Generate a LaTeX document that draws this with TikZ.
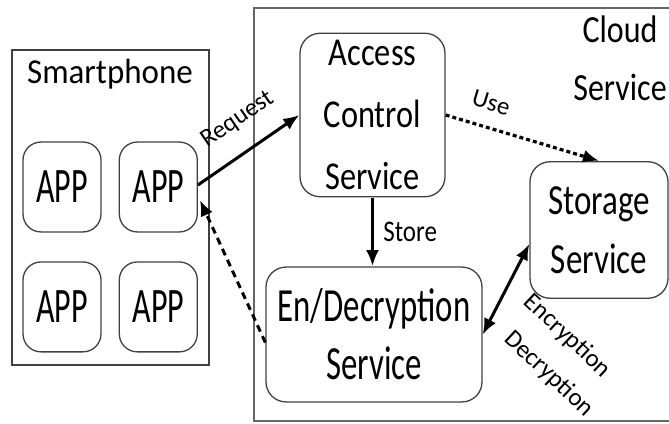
\documentclass[tikz,border=0pt]{standalone}
\usepackage{fontspec}
\setmainfont{Carlito}
\usepackage{tikz}
\usetikzlibrary{arrows.meta,calc,positioning}
\tikzset{every picture/.style={
  >={Latex[length=16pt,width=13pt]}   % Big filled arrow heads.
  }
}

\begin{document}
\begin{tikzpicture}[x=1pt,y=-1pt,
    box/.style={draw=black!75,line width=1.3pt,inner sep=0pt,align=center},
    app/.style={box,rounded corners=18pt,yscale=1.55,
      minimum width=78pt,minimum height=58pt,
      font=\fontsize{32}{38}\selectfont},
    svc/.style={box,rounded corners=20pt},
    lbl/.style={font=\fontsize{25}{30}\selectfont},
    link/.style={line width=3pt}
  ]

    \useasboundingbox (0,0) rectangle (669,423);
    \clip (0,0) rectangle (669,423);

    % The cloud side; its right edge runs off the page.
    \node[draw=black!60,line width=1.5pt,minimum width=446pt,
      minimum height=413pt] (cloud) at (477,214.5) {};
    \node[font=\fontsize{32}{48}\selectfont,yscale=1.2,align=center]
      (cloudtxt) at (620,58) {Cloud\\Service};

    % The smartphone and its apps.
    \node[box,minimum width=197pt,minimum height=315pt] (phone)
      at (110.5,207.5) {};
    \node[font=\fontsize{33}{40}\selectfont,yscale=1.06,anchor=base]
      (phonetxt) at (110,83) {Smartphone};

    \node[app] (app1) at (62,187) {APP};
    \node[app,right=17pt of app1] (app2) {APP};
    \node[app,below=28pt of app1] (app3) {APP};
    \node[app,right=17pt of app3] (app4) {APP};

    % The three services.
    \node[svc,yscale=1.22,minimum width=145pt,minimum height=134pt,
      font=\fontsize{32.4}{51}\selectfont] (acc) at (372.5,115)
      {Access\\Control\\Service};
    \node[svc,yscale=1.45,minimum width=216pt,minimum height=93pt,
      font=\fontsize{32.8}{40}\selectfont] (enc) at (374,334.5)
      {En/Decryption\\Service};
    \node[svc,yscale=1.3,minimum width=138pt,minimum height=105pt,
      font=\fontsize{33}{45}\selectfont] (sto) at (599,230)
      {Storage\\Service};

    % Request goes out, the answer comes back dashed.
    \draw[->,link] ($(app2.east)+(0,-2)$) -- (acc.west)
      node[lbl,sloped,pos=.57,above=16pt] (req) {Request};
    \draw[->,link,dash pattern=on 7pt off 5pt] ($(enc.west)+(0,8)$) --
      ($(app2.east)+(2,13)$);

    % Links inside the cloud.
    \draw[->,link] (acc.south) -- (acc.south |- enc.north)
      node[lbl,yscale=1.2,midway,right=6pt] (store) {Store};
    \draw[->,link,line width=3.2pt,dash pattern=on 4pt off 3pt] (acc.east) --
      (sto.north) node[lbl,sloped,pos=.25,above=12pt] (use) {Use};
    \draw[<->,link] (enc.east) -- ($(sto.west)+(0,14)$);

    % Label the en/decryption link.
    \node[lbl,rotate=-43] (encr) at (567,336) {Encryption};
    \node[lbl,rotate=-43] (decr) at (549,374) {Decryption};
  \end{tikzpicture}
\end{document}
